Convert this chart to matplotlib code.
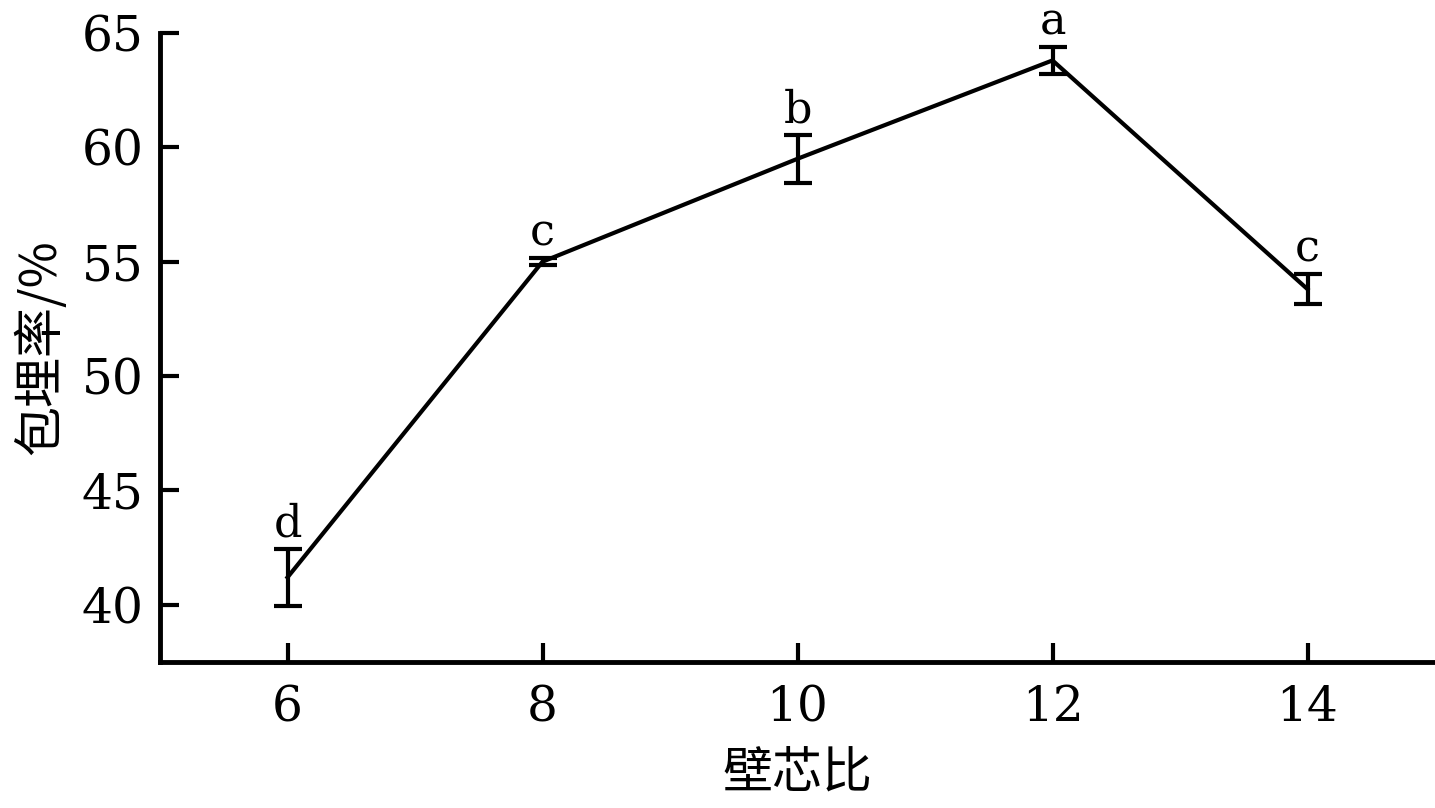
import matplotlib
matplotlib.use("Agg")
import matplotlib.pyplot as plt

# data
ratio = [6, 8, 10, 12, 14]
rate = [41.2, 55.0, 59.5, 63.8, 53.8]
err = [1.25, 0.15, 1.05, 0.6, 0.65]
letters = ["d", "c", "b", "a", "c"]
yticks = [40, 45, 50, 55, 60, 65]

serif = ["DejaVu Serif"]
cjk = ["Noto Sans CJK SC", "DejaVu Serif"]

fig = plt.figure(figsize=(14.35, 8.08), dpi=100)
ax = fig.add_axes([0.1115, 0.1807, 0.8885, 0.7785])

ax.errorbar(ratio, rate, yerr=err, color="black", lw=3, elinewidth=3,
            capsize=10, capthick=3)

for x, y, e, t in zip(ratio, rate, err, letters):
    ax.annotate(t, (x, y + e), xytext=(0, 9), textcoords="offset points",
                ha="center", va="baseline", fontsize=32, family=serif)

ax.set_xlim(5, 15)
ax.set_ylim(37.5, 65)
ax.set_xticks(ratio)
ax.set_yticks(yticks)
ax.tick_params(direction="in", length=14, width=3, labelsize=35)
ax.tick_params(axis="x", pad=16)
ax.tick_params(axis="y", pad=12)
for lab in ax.get_xticklabels() + ax.get_yticklabels():
    lab.set_family(serif)

for s in ["top", "right"]:
    ax.spines[s].set_visible(False)
for s in ["left", "bottom"]:
    ax.spines[s].set_linewidth(3.5)

ax.set_xlabel("壁芯比", fontsize=36, family=cjk, labelpad=12)
ax.set_ylabel("包埋率/%", fontsize=36, family=cjk, labelpad=10)

fig.savefig("out.png", dpi=100)
